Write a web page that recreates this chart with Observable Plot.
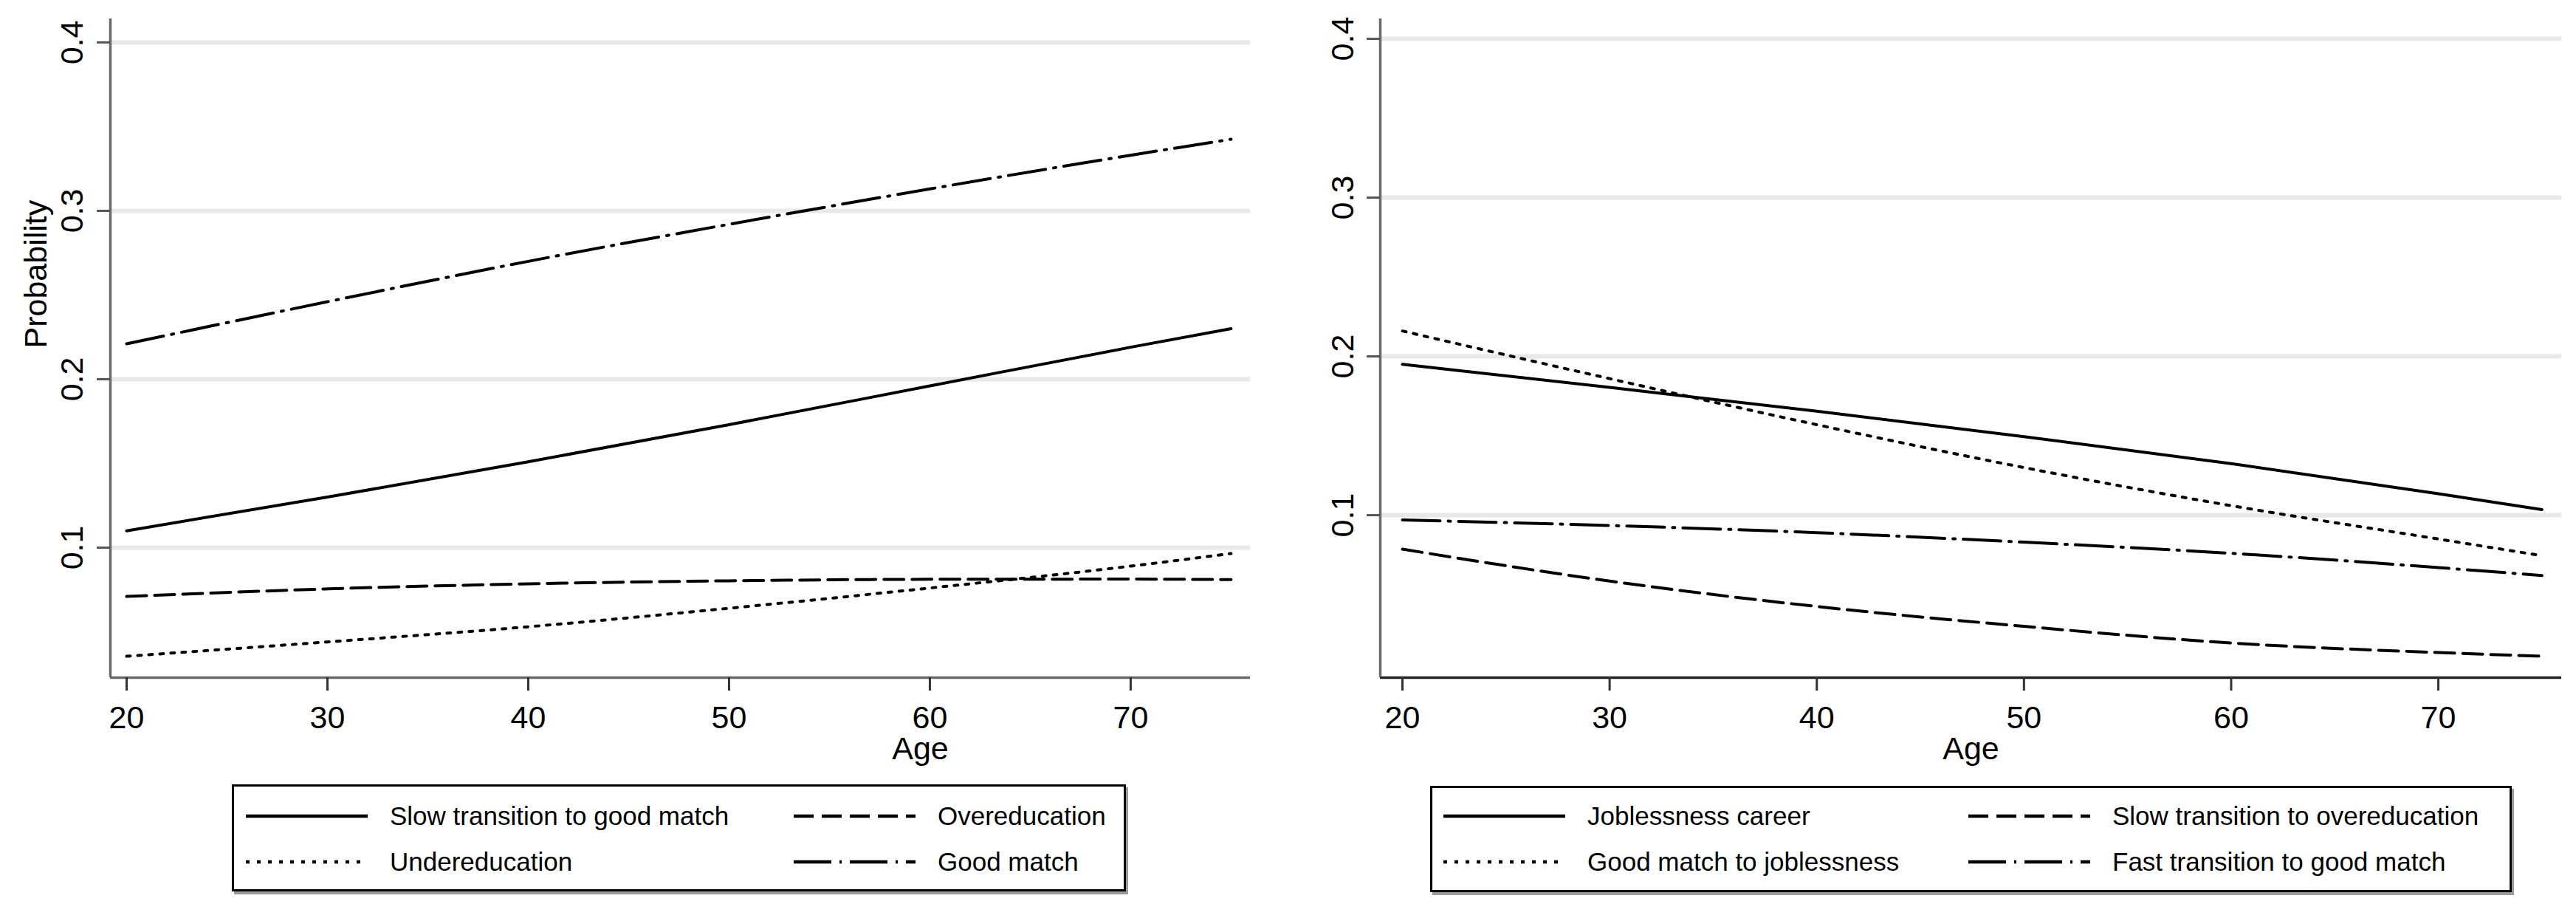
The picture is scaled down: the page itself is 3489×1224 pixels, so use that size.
<!DOCTYPE html>
<html><head><meta charset="utf-8">
<script src="https://cdn.jsdelivr.net/npm/d3@7"></script>
<script src="https://cdn.jsdelivr.net/npm/@observablehq/plot@0.6"></script>
<style>
html,body{margin:0;padding:0;background:#fff;}
#root{position:relative;width:3489px;height:1224px;overflow:hidden;font-family:"Liberation Sans",Arial,sans-serif;color:#000;background:#fff;}
.panel{position:absolute;top:0;}
.legend{position:absolute;border:3px solid #000;box-shadow:3px 4px 0 #9a9a9a;background:#fff;box-sizing:border-box;}
.item{position:absolute;display:flex;align-items:center;font-size:35px;white-space:nowrap;transform:translateY(-50%);}
.item svg{display:block;margin-right:30px;}
</style></head><body><div id="root"></div>
<script>
// ---------- data ----------
const ages = [20, 30, 40, 50, 60, 70, 75];
const xTicks = [20, 30, 40, 50, 60, 70];
const yTicks = [0.1, 0.2, 0.3, 0.4];

// left panel
const leftNames = ["Slow transition to good match", "Overeducation", "Undereducation", "Good match"];
const leftSlowGood  = [0.110, 0.130, 0.151, 0.173, 0.196, 0.219, 0.230];
const leftOveredu   = [0.071, 0.0755, 0.0785, 0.0803, 0.0812, 0.0813, 0.081];
const leftUnderedu  = [0.0355, 0.044, 0.053, 0.064, 0.076, 0.089, 0.0965];
const leftGoodMatch = [0.221, 0.246, 0.270, 0.292, 0.313, 0.333, 0.3425];

// right panel
const rightNames = ["Joblessness career", "Slow transition to overeducation", "Good match to joblessness", "Fast transition to good match"];
const rightJobless   = [0.195, 0.1805, 0.1655, 0.1495, 0.1325, 0.1135, 0.1035];
const rightSlowOver  = [0.0786, 0.0585, 0.0425, 0.030, 0.0195, 0.0135, 0.0112];
const rightGoodToJob = [0.216, 0.186, 0.157, 0.130, 0.106, 0.085, 0.0745];
const rightFastGood  = [0.097, 0.0935, 0.089, 0.083, 0.076, 0.067, 0.062];

// ---------- styles ----------
const DASHES = {solid: null, dash: "27,11", dot: "5,10", dashdot: "51,11,3,11"};
const leftStyles  = ["solid", "dash", "dot", "dashdot"];
const rightStyles = ["solid", "dash", "dot", "dashdot"];
const FONT = "'Liberation Sans', Arial, sans-serif";

function rowsOf(name, values) {
  return ages.map((a, i) => ({series: name, age: a, value: values[i]}));
}

function panel(o) {
  const marks = [
    Plot.gridY(yTicks, {stroke: "#e8e8e8", strokeOpacity: 1, strokeWidth: 6}),
  ];
  o.series.forEach((s, i) => {
    const opt = {x: "age", y: "value", stroke: "#000", strokeWidth: 4, curve: "monotone-x"};
    const d = DASHES[o.styles[i]];
    if (d) opt.strokeDasharray = d;
    marks.push(Plot.line(rowsOf(s.name, s.values), opt));
  });
  marks.push(
    Plot.ruleY([o.yDomain[0]], {stroke: o.xAxisStroke, strokeWidth: 3.5}),
    Plot.ruleX([o.xDomain[0]], {stroke: o.yAxisStroke, strokeWidth: 3.5}),
    Plot.axisX(xTicks, {tickSize: 18, tickPadding: 20, fontSize: 43, stroke: "#333", strokeWidth: 3, label: null, tickFormat: d => String(d)}),
    Plot.axisY(yTicks, {tickSize: 18, tickFormat: () => "", stroke: "#555", strokeWidth: 3, label: null}),
    Plot.text(yTicks, {y: d => d, text: d => d.toFixed(1), frameAnchor: "left", dx: o.tickDx, rotate: -90, fontSize: 43, textAnchor: "middle", lineAnchor: "middle"}),
    Plot.text(["Age"], {text: d => d, frameAnchor: "bottom", dy: 110, dx: o.ageDx, fontSize: 43})
  );
  if (o.yTitle) marks.push(Plot.text([o.yTitle], {text: d => d, frameAnchor: "left", dx: -100, rotate: -90, fontSize: 43, lineAnchor: "middle"}));
  return Plot.plot({
    width: o.width, height: 1060,
    marginLeft: o.marginLeft, marginRight: o.marginRight, marginTop: 25, marginBottom: 1060 - 917,
    x: {domain: o.xDomain},
    y: {domain: o.yDomain},
    style: {fontFamily: FONT, fontSize: "43px", background: "white", color: "#000", overflow: "visible"},
    marks
  });
}

function legend(names, styles, box, cols, rowsY) {
  const div = document.createElement("div");
  div.className = "legend";
  Object.assign(div.style, {left: box.x + "px", top: box.y + "px", width: box.w + "px", height: box.h + "px"});
  names.forEach((n, i) => {
    const it = document.createElement("div");
    it.className = "item";
    it.style.left = cols[i % 2] + "px";
    it.style.top = rowsY[Math.floor(i / 2)] + "px";
    const d = DASHES[styles[i]];
    it.innerHTML = `<svg width="165" height="12"><line x1="0" x2="165" y1="6" y2="6" stroke="#000" stroke-width="4.5" ${d ? `stroke-dasharray="${d}"` : ""}/></svg><span>${n}</span>`;
    div.appendChild(it);
  });
  return div;
}

const root = document.getElementById("root");

const left = panel({
  width: 1741, marginLeft: 149, marginRight: 48,
  xDomain: [19.19, 75.96], yDomain: [0.0228, 0.414],
  series: leftNames.map((n, i) => ({name: n, values: [leftSlowGood, leftOveredu, leftUnderedu, leftGoodMatch][i]})),
  styles: leftStyles, xAxisStroke: "#6a6a6a", yAxisStroke: "#6a6a6a", tickDx: -51, ageDx: 325, yTitle: "Probability"
});
left.classList.add("panel"); left.style.left = "0px";
root.appendChild(left);

const right = panel({
  width: 1748, marginLeft: 128, marginRight: 20,
  xDomain: [18.93, 75.95], yDomain: [-0.0023, 0.4126],
  series: rightNames.map((n, i) => ({name: n, values: [rightJobless, rightSlowOver, rightGoodToJob, rightFastGood][i]})),
  styles: rightStyles, xAxisStroke: "#222", yAxisStroke: "#6a6a6a", tickDx: -50, ageDx: 0, yTitle: null
});
right.classList.add("panel"); right.style.left = "1741px";
root.appendChild(right);

root.appendChild(legend(leftNames, leftStyles, {x: 314, y: 1062, w: 1211, h: 145}, [16, 758], [40, 102]));
root.appendChild(legend(rightNames, rightStyles, {x: 1937, y: 1064, w: 1465, h: 144}, [15, 726], [38, 100]));
</script></body></html>
